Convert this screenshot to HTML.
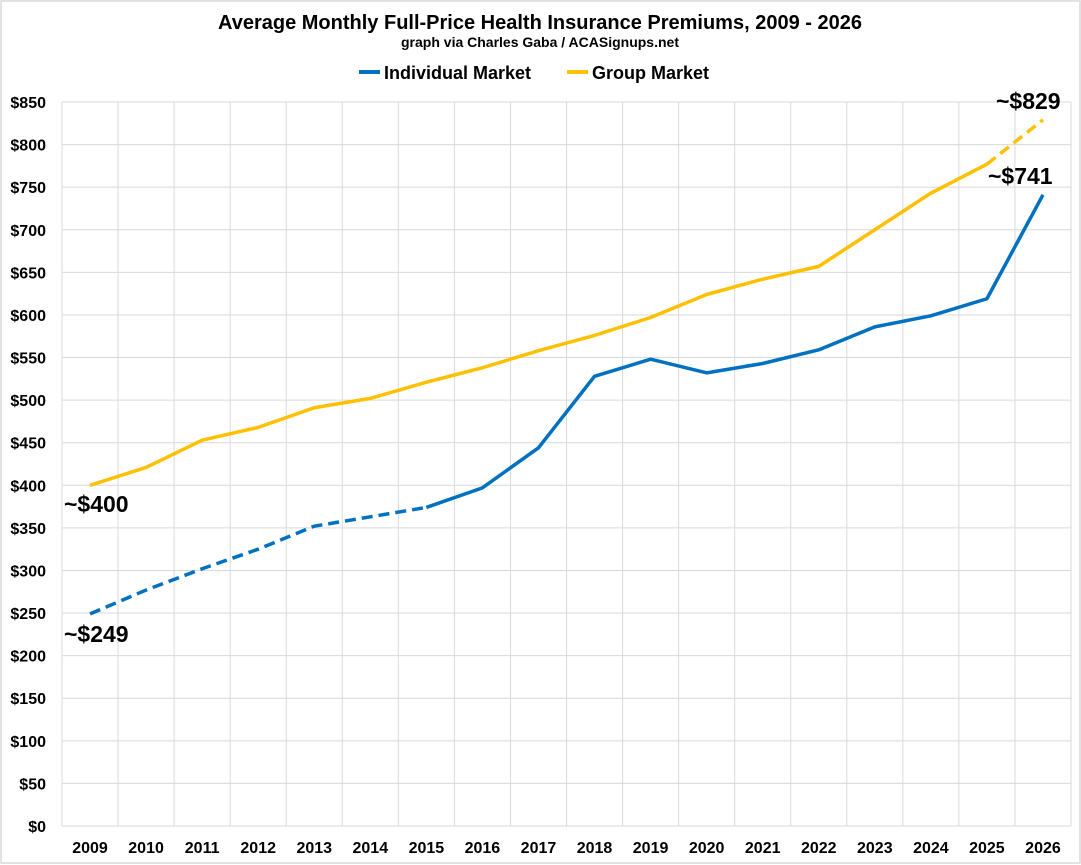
<!DOCTYPE html>
<html><head><meta charset="utf-8"><style>
html,body{margin:0;padding:0;background:#fff;}
svg{display:block;font-family:"Liberation Sans",Arial,sans-serif;font-weight:bold;}
</style></head><body>
<svg width="1081" height="865" viewBox="0 0 1081 865" xmlns="http://www.w3.org/2000/svg">
<rect x="1" y="1" width="1079" height="862" fill="#fff" stroke="#d9d9d9" stroke-width="1.5"/>
<text x="540" y="29" text-anchor="middle" font-size="20">Average Monthly Full-Price Health Insurance Premiums, 2009 - 2026</text>
<text x="540" y="47" text-anchor="middle" font-size="14">graph via Charles Gaba / ACASignups.net</text>
<line x1="359" y1="72" x2="380" y2="72" stroke="#0070c0" stroke-width="4"/>
<text x="384" y="79" font-size="18">Individual Market</text>
<line x1="567" y1="72" x2="588" y2="72" stroke="#ffc000" stroke-width="4"/>
<text x="592" y="79" font-size="18">Group Market</text>
<g stroke="#d9d9d9" stroke-width="1">
<line x1="62" x2="1071" y1="826" y2="826"/><line x1="62" x2="1071" y1="783.41" y2="783.41"/><line x1="62" x2="1071" y1="740.82" y2="740.82"/><line x1="62" x2="1071" y1="698.24" y2="698.24"/><line x1="62" x2="1071" y1="655.65" y2="655.65"/><line x1="62" x2="1071" y1="613.06" y2="613.06"/><line x1="62" x2="1071" y1="570.47" y2="570.47"/><line x1="62" x2="1071" y1="527.88" y2="527.88"/><line x1="62" x2="1071" y1="485.29" y2="485.29"/><line x1="62" x2="1071" y1="442.71" y2="442.71"/><line x1="62" x2="1071" y1="400.12" y2="400.12"/><line x1="62" x2="1071" y1="357.53" y2="357.53"/><line x1="62" x2="1071" y1="314.94" y2="314.94"/><line x1="62" x2="1071" y1="272.35" y2="272.35"/><line x1="62" x2="1071" y1="229.76" y2="229.76"/><line x1="62" x2="1071" y1="187.18" y2="187.18"/><line x1="62" x2="1071" y1="144.59" y2="144.59"/><line x1="62" x2="1071" y1="102" y2="102"/>
<line y1="102" y2="826" x1="62" x2="62"/><line y1="102" y2="826" x1="118.06" x2="118.06"/><line y1="102" y2="826" x1="174.11" x2="174.11"/><line y1="102" y2="826" x1="230.17" x2="230.17"/><line y1="102" y2="826" x1="286.22" x2="286.22"/><line y1="102" y2="826" x1="342.28" x2="342.28"/><line y1="102" y2="826" x1="398.33" x2="398.33"/><line y1="102" y2="826" x1="454.39" x2="454.39"/><line y1="102" y2="826" x1="510.44" x2="510.44"/><line y1="102" y2="826" x1="566.5" x2="566.5"/><line y1="102" y2="826" x1="622.56" x2="622.56"/><line y1="102" y2="826" x1="678.61" x2="678.61"/><line y1="102" y2="826" x1="734.67" x2="734.67"/><line y1="102" y2="826" x1="790.72" x2="790.72"/><line y1="102" y2="826" x1="846.78" x2="846.78"/><line y1="102" y2="826" x1="902.83" x2="902.83"/><line y1="102" y2="826" x1="958.89" x2="958.89"/><line y1="102" y2="826" x1="1014.94" x2="1014.94"/><line y1="102" y2="826" x1="1071" x2="1071"/>
</g>
<g font-size="16" text-anchor="end">
<text x="46" y="832">$0</text><text x="46" y="789.4">$50</text><text x="46" y="746.8">$100</text><text x="46" y="704.2">$150</text><text x="46" y="661.6">$200</text><text x="46" y="619.1">$250</text><text x="46" y="576.5">$300</text><text x="46" y="533.9">$350</text><text x="46" y="491.3">$400</text><text x="46" y="448.7">$450</text><text x="46" y="406.1">$500</text><text x="46" y="363.5">$550</text><text x="46" y="320.9">$600</text><text x="46" y="278.4">$650</text><text x="46" y="235.8">$700</text><text x="46" y="193.2">$750</text><text x="46" y="150.6">$800</text><text x="46" y="108">$850</text>
</g>
<g font-size="16" text-anchor="middle">
<text x="90.03" y="853">2009</text><text x="146.08" y="853">2010</text><text x="202.14" y="853">2011</text><text x="258.19" y="853">2012</text><text x="314.25" y="853">2013</text><text x="370.31" y="853">2014</text><text x="426.36" y="853">2015</text><text x="482.42" y="853">2016</text><text x="538.47" y="853">2017</text><text x="594.53" y="853">2018</text><text x="650.58" y="853">2019</text><text x="706.64" y="853">2020</text><text x="762.69" y="853">2021</text><text x="818.75" y="853">2022</text><text x="874.81" y="853">2023</text><text x="930.86" y="853">2024</text><text x="986.92" y="853">2025</text><text x="1042.97" y="853">2026</text>
</g>
<g fill="none" stroke-width="3.5" stroke-linejoin="round">
<polyline stroke="#0070c0" stroke-dasharray="11,6" points="90.03,613.91 146.08,590.06 202.14,568.77 258.19,549.18 314.25,526.18 370.31,516.81 426.36,507.44"/>
<polyline stroke="#0070c0" points="426.36,507.44 482.42,487.85 538.47,447.82 594.53,376.27 650.58,359.23 706.64,372.86 762.69,363.49 818.75,349.86 874.81,326.87 930.86,315.79 986.92,298.76 1042.97,194.84"/>
<polyline stroke="#ffc000" points="90.03,485.29 146.08,467.41 202.14,440.15 258.19,427.37 314.25,407.78 370.31,398.41 426.36,382.23 482.42,367.75 538.47,350.72 594.53,335.38 650.58,317.5 706.64,294.5 762.69,279.17 818.75,266.39 874.81,229.76 930.86,193.14 986.92,164.18"/>
<polyline stroke="#ffc000" stroke-dasharray="11,6" points="986.92,164.18 1042.97,119.89"/>
</g>
<g font-size="23">
<text x="64" y="512">~$400</text>
<text x="64" y="642">~$249</text>
<text x="988" y="184">~$741</text>
<text x="996" y="109">~$829</text>
</g>
</svg>
</body></html>
